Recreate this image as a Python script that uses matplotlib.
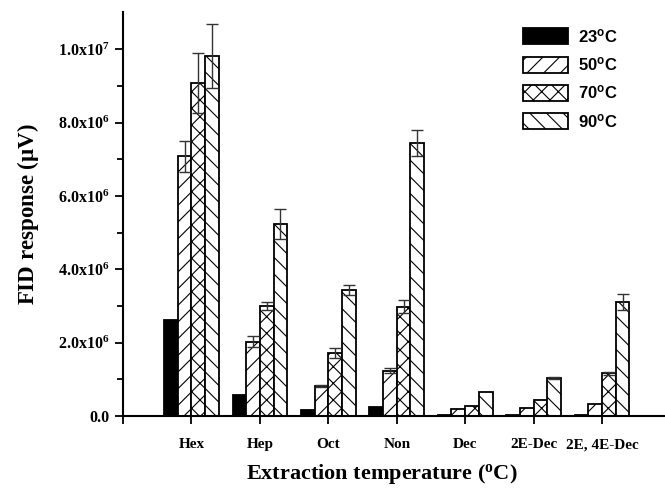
import matplotlib
matplotlib.use("Agg")
import matplotlib.pyplot as plt
import numpy as np

categories = ["Hex", "Hep", "Oct", "Non", "Dec", "2E-Dec", "2E, 4E-Dec"]
series_labels = ["23", "50", "70", "90"]
v23 = [2.62e6, 0.56e6, 0.16e6, 0.24e6, 0.02e6, 0.04e6, 0.03e6]
v50 = [7.08e6, 2.02e6, 0.82e6, 1.24e6, 0.19e6, 0.21e6, 0.34e6]
v70 = [9.08e6, 3.00e6, 1.72e6, 2.98e6, 0.27e6, 0.44e6, 1.16e6]
v90 = [9.82e6, 5.24e6, 3.44e6, 7.44e6, 0.65e6, 1.03e6, 3.11e6]
e23 = [0, 0, 0, 0, 0, 0, 0]
e50 = [0.43e6, 0.15e6, 0.03e6, 0.07e6, 0, 0, 0]
e70 = [0.82e6, 0.11e6, 0.13e6, 0.18e6, 0, 0, 0.04e6]
e90 = [0.88e6, 0.40e6, 0.13e6, 0.36e6, 0, 0.03e6, 0.21e6]
yticks = [0, 2e6, 4e6, 6e6, 8e6, 1e7]
ytick_labels = [r"0.0", r"$\mathregular{2.0x10^{6}}$", r"$\mathregular{4.0x10^{6}}$",
                r"$\mathregular{6.0x10^{6}}$", r"$\mathregular{8.0x10^{6}}$",
                r"$\mathregular{1.0x10^{7}}$"]

plt.rcParams['hatch.linewidth'] = 0.8
fig = plt.figure(figsize=(6.65, 4.9), dpi=100)
ax = fig.add_axes([0.185, 0.151, 0.815, 0.8245])

x = np.arange(1, len(categories) + 1)
w = 0.2
vals = [v23, v50, v70, v90]
errs = [e23, e50, e70, e90]
hatches = [None, "//", "xx", "\\\\"]
faces = ["black", "white", "white", "white"]
handles = []
for i in range(4):
    pos = x + (i - 1.5) * w
    b = ax.bar(pos, vals[i], width=w, color=faces[i], edgecolor="black",
               linewidth=1.3, hatch=hatches[i], zorder=2,
               label=r"%s$\mathregular{^{o}}$C" % series_labels[i])
    handles.append(b)
    errv = np.array(errs[i])
    mask = errv > 0
    if mask.any():
        ax.errorbar(pos[mask], np.array(vals[i])[mask], yerr=errv[mask], fmt="none",
                    ecolor="#333333", elinewidth=1.0, capsize=4, capthick=1.0, zorder=3)

ax.set_xlim(0, 7.92)
ax.set_ylim(0, 1.102e7)
ax.set_xticks(np.concatenate([[0], x]))
ax.set_xticklabels([""] + categories, fontfamily="Liberation Serif", fontweight="bold", fontsize=11)
ax.set_yticks(yticks)
ax.set_yticklabels(ytick_labels, fontfamily="Liberation Serif", fontweight="bold", fontsize=11.5)
ax.set_yticks(np.arange(1e6, 1.1e7, 2e6), minor=True)
ax.tick_params(axis="both", which="major", direction="out", length=6, width=1.3, pad=4)
ax.tick_params(axis="y", which="minor", direction="out", length=4, width=1.3)
ax.tick_params(axis="x", which="major", pad=10)
for s in ["top", "right"]:
    ax.spines[s].set_visible(False)
for s in ["left", "bottom"]:
    ax.spines[s].set_linewidth(1.5)

ax.set_ylabel(r"FID response ($\mathregular{\mu}$V)", fontfamily="Liberation Serif",
              fontweight="bold", fontsize=16.5, labelpad=12)
ax.set_xlabel(r"Extraction temperature ($\mathregular{^{o}}$C)", fontfamily="Liberation Serif",
              fontweight="bold", fontsize=16, labelpad=8)
ax.xaxis.label.set_x(0.478)

leg = ax.legend(handles=handles, loc="upper left", bbox_to_anchor=(0.71, 1.0),
                frameon=False, prop={"family": "Liberation Sans", "weight": "bold", "size": 12},
                handlelength=2.7, handleheight=1.1, labelspacing=0.62, handletextpad=0.6)

fig.savefig("out.png", dpi=100)
